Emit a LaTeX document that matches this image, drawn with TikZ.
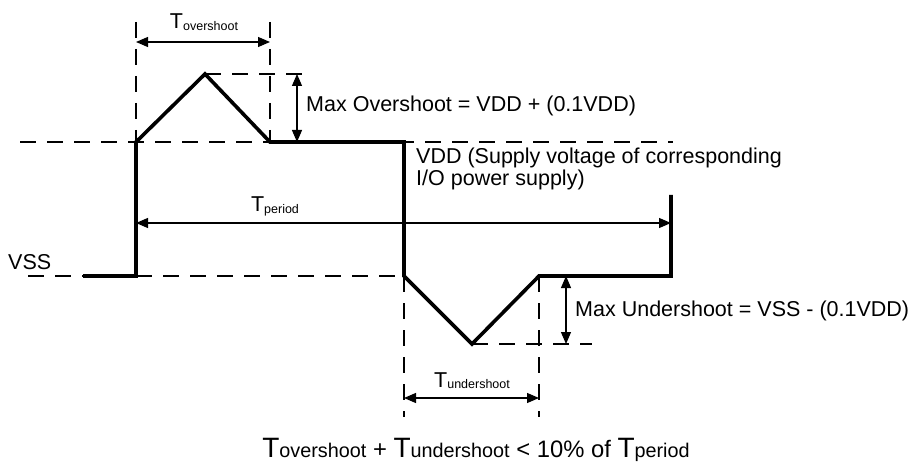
\documentclass[tikz,border=0pt]{standalone}
\usepackage{fontspec}
\setmainfont{Liberation Sans}
\usetikzlibrary{arrows.meta}
\newcommand\subtxt[1]{\raisebox{-1.5pt}{\fontsize{12.5}{12.5}\selectfont #1}}
\newcommand\bigT{{\fontsize{28}{28}\selectfont T}}
\newcommand\bigsub[1]{{\fontsize{19.8}{19.8}\selectfont #1}}
\newcommand\midtxt[1]{{\fontsize{23.8}{23.8}\selectfont #1}}
\begin{document}
\begin{tikzpicture}[x=1pt,y=-1pt,
  wave/.style={line width=3.6pt, line join=miter, line cap=butt},
  guide/.style={line width=1.2pt, dash pattern=on 16pt off 11pt},
  dim/.style={line width=1.2pt, {Triangle[length=12pt,width=10pt]}-{Triangle[length=12pt,width=10pt]}},
  lbl/.style={inner sep=0pt, font=\fontsize{21.5}{23}\selectfont}]
\useasboundingbox (0,0) rectangle (909,462);

% waveform points
\coordinate (s0) at (83,276);
\coordinate (s1) at (136,276);
\coordinate (s2) at (136,142);
\coordinate (pk) at (205,74);
\coordinate (s3) at (270,142);
\coordinate (s4) at (404,142);
\coordinate (s5) at (404,276);
\coordinate (tr) at (472,344);
\coordinate (s6) at (539,276);
\coordinate (s7) at (671,276);
\coordinate (s8) at (671,195);

% guide ends
\coordinate (vddL) at (20,142);
\coordinate (vddR) at (673,142);
\coordinate (vssL) at (28,276);
\coordinate (ovR) at (305,74);
\coordinate (unR) at (592,344);
\coordinate (t1top) at (136,22);
\coordinate (t2top) at (270,22);
\coordinate (t3bot) at (404,417);
\coordinate (t4bot) at (539,417);

% dimension ends
\coordinate (toA) at (136,42);
\coordinate (toB) at (270,42);
\coordinate (moA) at (297,74);
\coordinate (moB) at (297,142);
\coordinate (tpA) at (136,223);
\coordinate (tpB) at (671,223);
\coordinate (muA) at (566,276);
\coordinate (muB) at (566,344);
\coordinate (tuA) at (404,398);
\coordinate (tuB) at (539,398);

% guides
\draw[guide] (vddL) -- (vddR);
\draw[guide] (vssL) -- (s5);
\draw[guide] (pk) -- (ovR);
\draw[guide] (tr) -- (unR);
\draw[guide] (t1top) -- (s2);
\draw[guide] (t2top) -- (s3);
\draw[guide] (s5) -- (t3bot);
\draw[guide] (s6) -- (t4bot);

% dimensions
\draw[dim] (toA) -- (toB);
\draw[dim] (moA) -- (moB);
\draw[dim] (tpA) -- (tpB);
\draw[dim] (muA) -- (muB);
\draw[dim] (tuA) -- (tuB);

% waveform
\draw[wave] (s0) -- (s1) -- (s2) -- (pk) -- (s3) -- (s4) -- (s5) -- (tr) -- (s6) -- (s7) -- (s8);

% labels
\node[lbl, anchor=base] (lto) at (204,29) {T\subtxt{overshoot}};
\node[lbl, anchor=base] (ltp) at (275,212) {T\subtxt{period}};
\node[lbl, anchor=base] (ltu) at (472,387) {T\subtxt{undershoot}};
\node[lbl, anchor=base west] (lvss) at (8,269) {VSS};
\node[lbl, anchor=base west] (lvdd1) at (416,164) {VDD (Supply voltage of corresponding};
\node[lbl, anchor=base west] (lvdd2) at (416,186) {I/O power supply)};
\node[lbl, anchor=base west] (lmo) at (306,112) {Max Overshoot = VDD + (0.1VDD)};
\node[lbl, anchor=base west] (lmu) at (575,316) {Max Undershoot = VSS - (0.1VDD)};
\node[inner sep=0pt, anchor=base] (lform) at (476,457)
  {\bigT\bigsub{overshoot}\midtxt{ + }\bigT\bigsub{undershoot}\midtxt{ < 10\% of }\bigT\bigsub{period}};
\end{tikzpicture}
\end{document}
